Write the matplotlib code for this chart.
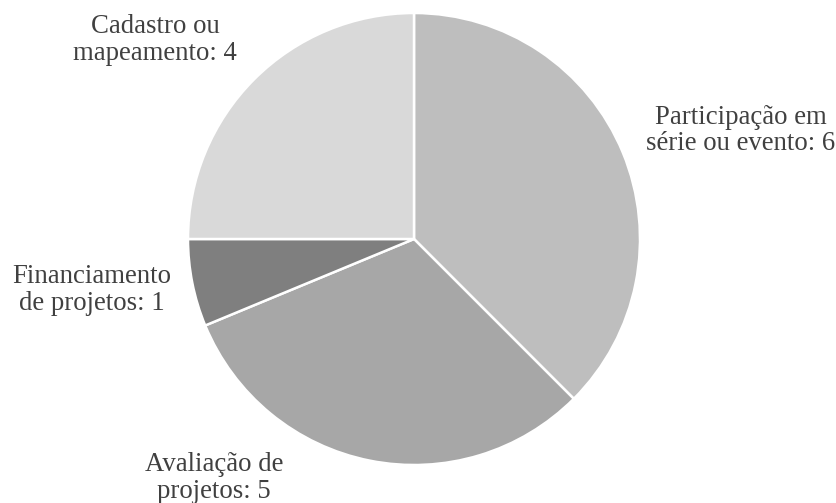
import matplotlib.pyplot as plt

categorias = ["Participação em\nsérie ou evento", "Avaliação de\nprojetos",
              "Financiamento\nde projetos", "Cadastro ou\nmapeamento"]
valores = [6, 5, 1, 4]
cores = ["#bebebe", "#a7a7a7", "#7f7f7f", "#d9d9d9"]

# posição de cada rótulo (raio do gráfico = 1)
pos_rotulos = [(1.447, 0.48), (-0.885, -1.058), (-1.425, -0.226), (-1.146, 0.88)]

plt.rcParams["font.family"] = ["Liberation Serif", "DejaVu Serif"]

fig = plt.figure(figsize=(8.37, 5.03), dpi=100)
ax = fig.add_axes([0, 0, 1, 1])

ax.pie(valores, colors=cores, startangle=90, counterclock=False, radius=1,
       wedgeprops=dict(edgecolor="white", linewidth=1.8))

for cat, v, (x, y) in zip(categorias, valores, pos_rotulos):
    ax.text(x, y, cat + ": " + str(v), ha="center", va="center",
            fontsize=19.3, color="#404040", linespacing=1.1)

ax.set_xlim(-414 / 226, (837 - 414) / 226)
ax.set_ylim((239 - 503) / 226, 239 / 226)
ax.set_aspect("auto")
ax.axis("off")

fig.savefig("out.png", dpi=100)
